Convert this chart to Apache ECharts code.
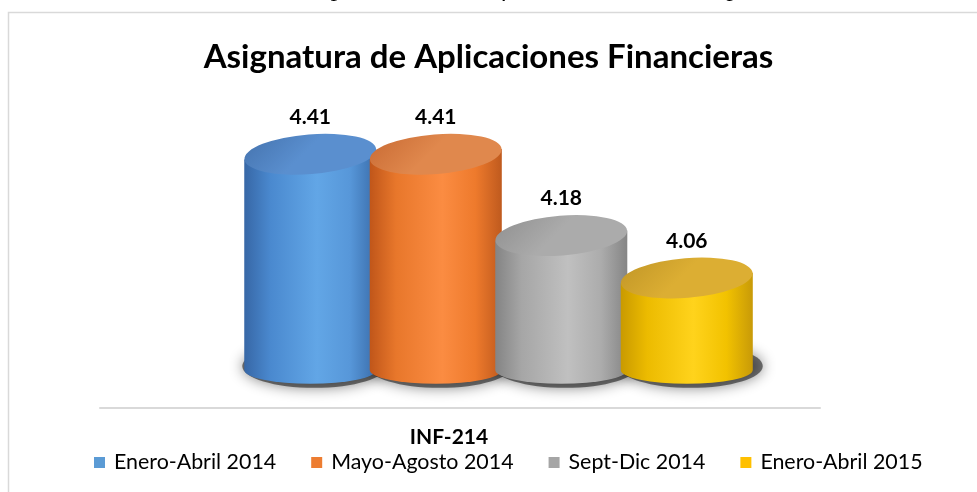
<!DOCTYPE html>
<html>
<head>
<meta charset="utf-8">
<script src="https://cdn.jsdelivr.net/npm/echarts@6/dist/echarts.min.js"></script>
<style>
html,body{margin:0;padding:0;background:#fff;}
#chart{width:977px;height:492px;}
</style>
</head>
<body>
<div id="chart"></div>
<script>
// ---- data ----
const titleText = 'Asignatura de Aplicaciones Financieras';
const captionText = 'Resultados por ciclo de calificación del alumno aplicado.';
const categories = ['INF-214'];
const periods = ['Enero-Abril 2014', 'Mayo-Agosto 2014', 'Sept-Dic 2014', 'Enero-Abril 2015'];
const values = [4.41, 4.41, 4.18, 4.06];
const Y_MIN = 3.8;
const Y_MAX = 4.6;

// ---- styles ----
const legendColors = ['#5b9bd5', '#ed7d31', '#a5a5a5', '#ffc000'];
const bodyStops = [
  ['#3767a6', '#4a89cf', '#62a6e6', '#5797d9', '#3a6dab'],
  ['#c0561a', '#e8772b', '#fb8c42', '#ee7a2c', '#bf5a1e'],
  ['#848484', '#a6a6a6', '#c0c0c0', '#acacac', '#858585'],
  ['#c99a00', '#ecbb00', '#ffd31c', '#f2c200', '#c89a08']
];
const capStops = [
  ['#4472ad', '#5a8fcf'],
  ['#c86a33', '#e0884d'],
  ['#8f8f8f', '#ababab'],
  ['#c09526', '#dcae33']
];
const FONT = 'Lato, "Open Sans", sans-serif';

function geom(api, idx) {
  const band = api.size([1, 0])[0];
  const mid = api.coord([0, Y_MIN])[0];
  const n = periods.length;
  const cx = mid + band * 0.0535 + (idx - (n - 1) / 2) * band * 0.1743;
  const rx = band * 0.0917;
  const ry = rx * 0.21;
  return { cx, rx, ry };
}

function hGrad(stops) {
  const pos = [0, 0.2, 0.55, 0.8, 1];
  return { type: 'linear', x: 0, y: 0, x2: 1, y2: 0,
    colorStops: stops.map((c, i) => ({ offset: pos[i], color: c })) };
}

function cylinderRender(idx) {
  return function (params, api) {
    const g = geom(api, idx);
    const top = api.coord([0, api.value(1)])[1];
    const base = api.coord([0, Y_MIN])[1];
    const th = -4.5 * Math.PI / 180;
    const dx = g.rx * Math.cos(th), dy = g.rx * Math.sin(th);
    const p1x = g.cx - dx, p1y = top - dy;
    const p2x = g.cx + dx, p2y = top + dy;
    const bodyD = 'M' + (g.cx - g.rx) + ' ' + p1y +
      ' L' + (g.cx - g.rx) + ' ' + base +
      ' A' + g.rx + ' ' + g.ry + ' 0 0 0 ' + (g.cx + g.rx) + ' ' + base +
      ' L' + (g.cx + g.rx) + ' ' + p2y + ' Z';
    const capD = 'M' + p1x + ' ' + p1y +
      ' A' + g.rx + ' ' + g.ry + ' -4.5 1 0 ' + p2x + ' ' + p2y +
      ' A' + g.rx + ' ' + g.ry + ' -4.5 1 0 ' + p1x + ' ' + p1y + ' Z';
    const bodyBox = { x: g.cx - g.rx, y: Math.min(p1y, p2y), width: 2 * g.rx, height: base + g.ry - Math.min(p1y, p2y) };
    const capBox = { x: g.cx - g.rx, y: top - g.ry - 6, width: 2 * g.rx, height: 2 * g.ry + 12 };
    return {
      type: 'group',
      children: [
        { type: 'path', shape: Object.assign({ pathData: bodyD, layout: 'cover' }, bodyBox),
          style: { fill: hGrad(bodyStops[idx]) } },
        { type: 'path', shape: Object.assign({ pathData: capD, layout: 'cover' }, capBox),
          style: { fill: { type: 'linear', x: 0, y: 0, x2: 0.3, y2: 1,
            colorStops: [{ offset: 0, color: capStops[idx][0] }, { offset: 1, color: capStops[idx][1] }] } } },
        { type: 'text', style: { text: api.value(1).toFixed(2), x: g.cx, y: top - g.ry - 23,
          textAlign: 'center', textVerticalAlign: 'middle',
          font: 'bold 21px ' + FONT, fill: '#000' } }
      ]
    };
  };
}

function shadowRender(params, api) {
  const idx = api.value(2);
  const g = geom(api, idx);
  const base = api.coord([0, Y_MIN])[1];
  return {
    type: 'ellipse',
    shape: { cx: g.cx + 4, cy: base - 4, rx: g.rx + 6, ry: g.ry + 8 },
    style: { fill: 'rgba(30,30,30,0.6)', shadowBlur: 14, shadowColor: 'rgba(0,0,0,0.8)' }
  };
}

const series = periods.map((name, i) => ({
  type: 'custom',
  name: name,
  z: 3,
  itemStyle: { color: legendColors[i] },
  renderItem: cylinderRender(i),
  data: [[0, values[i]]]
}));
series.unshift({
  type: 'custom',
  name: 'shadow',
  z: 1,
  silent: true,
  renderItem: shadowRender,
  data: values.map((v, i) => [0, v, i])
});

const chart = echarts.init(document.getElementById('chart'), null, { renderer: 'canvas' });
chart.setOption({
  backgroundColor: '#fff',
  animation: false,
  title: {
    text: titleText, left: 'center', top: 36,
    textStyle: { fontFamily: FONT, fontWeight: 'bold', fontSize: 33, color: '#000' }
  },
  legend: {
    data: periods, left: 89, top: 447, itemWidth: 11, itemHeight: 11, itemGap: 35,
    icon: 'rect',
    textStyle: { fontFamily: FONT, fontSize: 21.4, color: '#000', padding: [0, 0, 0, 4] }
  },
  grid: { left: 100, right: 157, top: 87, bottom: 122 },
  xAxis: {
    type: 'category', data: categories, offset: 38,
    axisLine: { show: true, lineStyle: { color: '#d9d9d9', width: 2 } },
    axisTick: { show: false },
    axisLabel: { margin: 19, fontFamily: FONT, fontWeight: 'bold', fontSize: 21, color: '#000',
      padding: [0, 22, 0, 0] },
    splitLine: { show: false }
  },
  yAxis: { type: 'value', min: Y_MIN, max: Y_MAX, show: false, splitLine: { show: false } },
  graphic: [
    { type: 'rect', shape: { x: 8.5, y: 12.5, width: 1000, height: 500 },
      style: { fill: 'none', stroke: '#d9d9d9', lineWidth: 1.5 }, z: 0 },
    { type: 'text', left: 212, top: -24,
      style: { text: captionText, font: 'italic 26px "Liberation Serif", serif', fill: '#000' } }
  ],
  series: series
});
</script>
</body>
</html>
